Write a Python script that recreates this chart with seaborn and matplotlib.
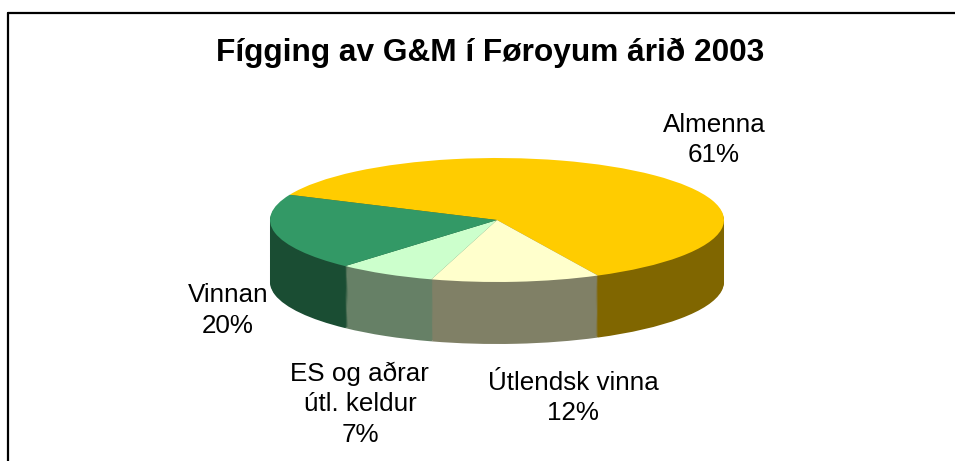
import numpy as np
import seaborn as sns
import matplotlib.pyplot as plt
from matplotlib.lines import Line2D

sns.set_style("white")
plt.rcParams["font.family"] = ["Liberation Sans", "DejaVu Sans"]

# data
labels = ["Almenna", "Útlendsk vinna", "ES og aðrar\nútl. keldur", "Vinnan"]
shares = [61, 12, 7, 20]
title = "Fígging av G&M í Føroyum árið 2003"

top_colors = ["#FFCC00", "#FFFFCC", "#CCFFCC", "#339966"]
side_colors = ["#806600", "#808066", "#668066", "#1A4D33"]

fig = plt.figure(figsize=(9.55, 4.61), dpi=100)
ax = fig.add_axes([0, 0, 1, 1])

# side wall: stack of darker pies below the top one
depth = 1.0
for d in np.linspace(depth, 0.02, 60):
    ax.pie(shares, colors=side_colors, startangle=156, counterclock=False,
           center=(0, -d), wedgeprops=dict(linewidth=0))
ax.pie(shares, colors=top_colors, startangle=156, counterclock=False,
       center=(0, 0), wedgeprops=dict(linewidth=0))

# squash circle into ellipse: 1 unit = 227 px across, 62 px down
ax.set_aspect("auto")
ax.set_xlim(-497 / 227, (955 - 497) / 227)
ax.set_ylim(-(461 - 220) / 62, 220 / 62)
ax.axis("off")

pos = [(0.956, 1.29), (0.335, -2.87), (-0.604, -2.97), (-1.185, -1.46)]
for lab, v, (x, y) in zip(labels, shares, pos):
    ax.text(x, y, f"{lab}\n{v}%", ha="center", va="center", color="black",
            fontsize=18.7, linespacing=1.35)

fig.text(490 / 955, 1 - 53 / 461, title, ha="center", va="center",
         fontsize=22.8, fontweight="bold", color="black")

# chart area border (left and top edges visible)
fig.add_artist(Line2D([8 / 955, 8 / 955], [0, 1 - 13 / 461], color="black", lw=1.6))
fig.add_artist(Line2D([8 / 955, 1], [1 - 13 / 461, 1 - 13 / 461], color="black", lw=1.6))

fig.savefig("out.png", dpi=100)
